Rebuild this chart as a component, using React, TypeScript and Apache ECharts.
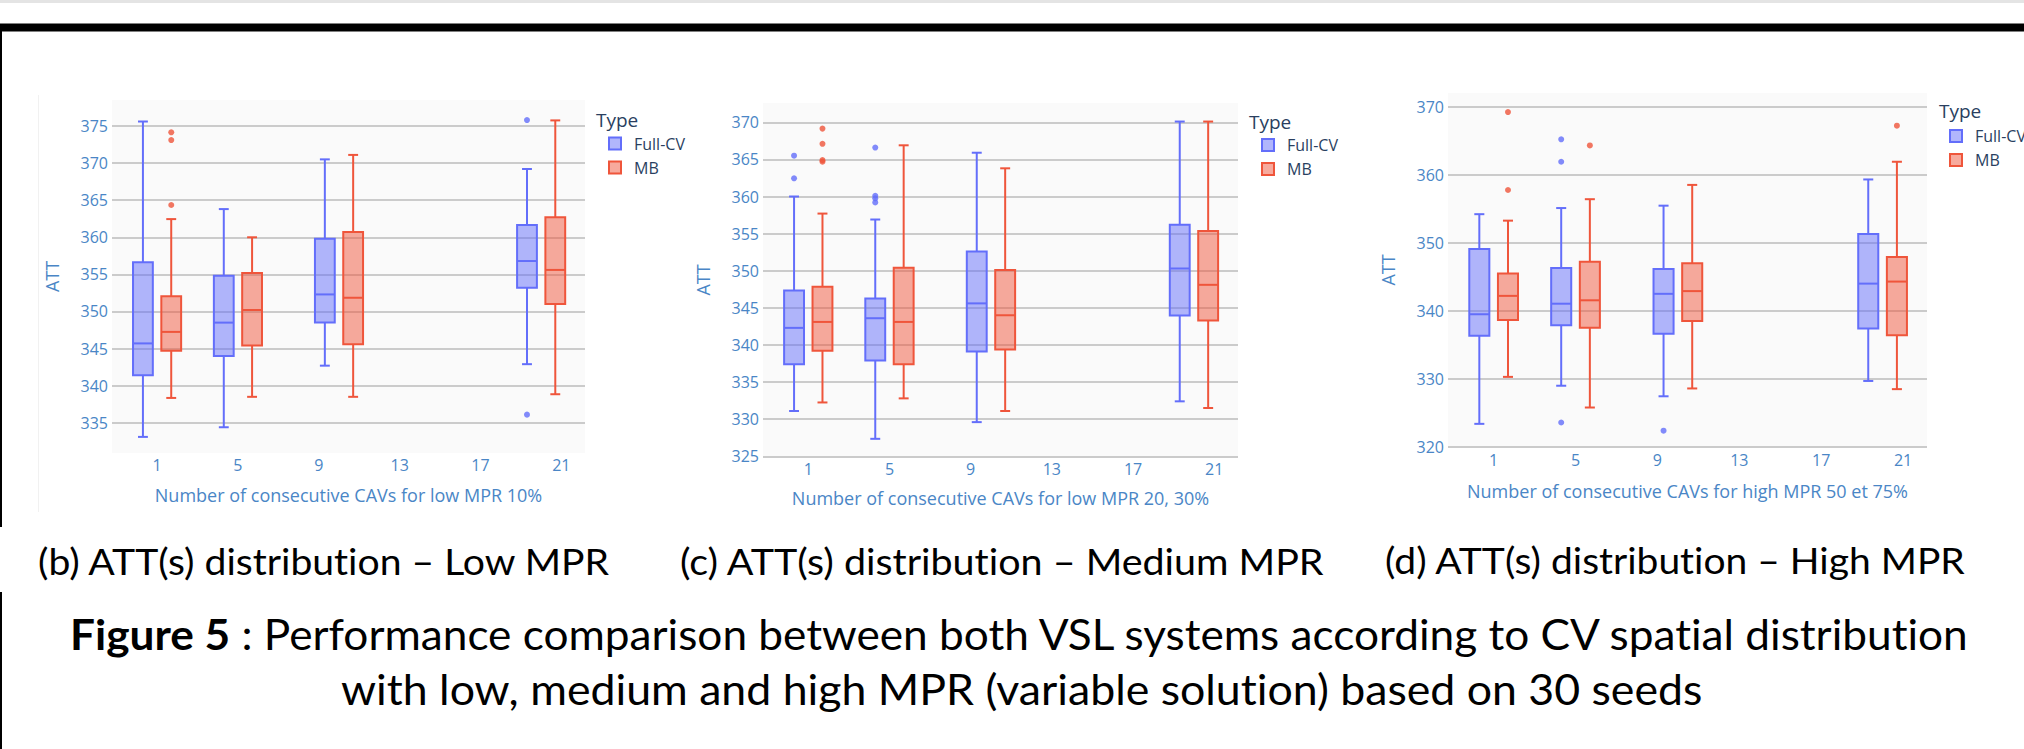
import React, { useEffect, useRef } from "react";
import * as echarts from "echarts";

// ---------------- DATA ----------------
const positions = [1, 5, 10, 20];
const xTickValues = [1, 5, 9, 13, 17, 21];
const seriesNames = ["Full-CV", "MB"];

// [min, q1, median, q3, max]
const lowFullCV = [
  [333.1, 341.4, 345.7, 356.65, 375.6],
  [334.4, 344.0, 348.5, 354.8, 363.8],
  [342.7, 348.5, 352.3, 359.8, 370.5],
  [342.9, 353.2, 356.8, 361.65, 369.2],
];
const lowMB = [
  [338.35, 344.7, 347.25, 352.05, 362.45],
  [338.5, 345.4, 350.2, 355.2, 360.0],
  [338.5, 345.6, 351.85, 360.7, 371.1],
  [338.85, 351.0, 355.6, 362.7, 375.75],
];
const lowFullCVOutliers = [[20, 375.8], [20, 336.1]];
const lowMBOutliers = [[1, 374.15], [1, 373.1], [1, 364.35]];
const lowYTicks = [335, 340, 345, 350, 355, 360, 365, 370, 375];

const mediumFullCV = [
  [331.1, 337.4, 342.3, 347.35, 360.0],
  [327.35, 337.9, 343.6, 346.25, 356.9],
  [329.6, 339.1, 345.6, 352.6, 365.9],
  [332.4, 343.95, 350.3, 356.2, 370.1],
];
const mediumMB = [
  [332.25, 339.2, 343.1, 347.85, 357.7],
  [332.8, 337.4, 343.1, 350.4, 366.9],
  [331.1, 339.4, 344.0, 350.1, 363.8],
  [331.5, 343.3, 348.1, 355.35, 370.1],
];
const mediumFullCVOutliers = [[1, 365.5], [1, 362.45], [5, 366.6], [5, 360.1], [5, 359.75], [5, 359.2]];
const mediumMBOutliers = [[1, 369.15], [1, 367.1], [1, 364.9], [1, 364.7]];
const mediumYTicks = [325, 330, 335, 340, 345, 350, 355, 360, 365, 370];

const highFullCV = [
  [323.4, 336.35, 339.5, 349.1, 354.2],
  [329.0, 337.9, 341.05, 346.3, 355.1],
  [327.45, 336.65, 342.5, 346.15, 355.45],
  [329.7, 337.4, 344.0, 351.3, 359.3],
];
const highMB = [
  [330.3, 338.65, 342.2, 345.5, 353.25],
  [325.8, 337.5, 341.55, 347.2, 356.4],
  [328.6, 338.5, 342.9, 347.0, 358.5],
  [328.5, 336.4, 344.3, 347.9, 361.9],
];
const highFullCVOutliers = [[5, 365.2], [5, 361.9], [5, 323.6], [10, 322.4]];
const highMBOutliers = [[1, 369.2], [1, 357.75], [5, 364.3], [20, 367.2]];
const highYTicks = [320, 330, 340, 350, 360, 370];

const xTitles = [
  "Number of consecutive CAVs for low MPR 10%",
  "Number of consecutive CAVs for low MPR 20, 30%",
  "Number of consecutive CAVs for high MPR 50 et 75%",
];
const yTitle = "ATT";
const legendTitle = "Type";
const subCaptions = [
  "(b) ATT(s) distribution \u2013 Low MPR",
  "(c) ATT(s) distribution \u2013 Medium MPR",
  "(d) ATT(s) distribution \u2013 High MPR",
];
const figureLabel = "Figure 5";
const figureLine1 = " : Performance comparison between both VSL systems according to CV spatial distribution";
const figureLine2 = "with low, medium and high MPR (variable solution) based on 30 seeds";

// ---------------- STYLE / LAYOUT ----------------
const COLORS = { "Full-CV": "#636efa", MB: "#ef553b" };
const FILLS = { "Full-CV": "rgba(99,110,250,0.5)", MB: "rgba(239,85,59,0.5)" };
const TICK_COLOR = "#4a86c6";
const LEGEND_COLOR = "#2a3f5f";
const GROUP_SPACING = 4; // smallest distance between positions
const BOX_GAP = 0.3;
const BOX_OFFSET = (GROUP_SPACING * (1 - BOX_GAP)) / 4;
const BOX_WIDTH = BOX_OFFSET * 2 * (1 - BOX_GAP);
const WHISKER_WIDTH = 0.5;
const X_MIN = -1.23;
const X_MAX = 22.17;
const CAPTION_FONT = "Lato";

const panels = [
  {
    full: lowFullCV, mb: lowMB, fullOut: lowFullCVOutliers, mbOut: lowMBOutliers, yTicks: lowYTicks,
    grid: { left: 112, top: 100, width: 473, height: 353 }, yMin: 330.93, yMax: 378.5,
    nameGap: 33, typePos: [596, 120], legendPos: [608, 133.5], labelMargin: 4,
  },
  {
    full: mediumFullCV, mb: mediumMB, fullOut: mediumFullCVOutliers, mbOut: mediumMBOutliers, yTicks: mediumYTicks,
    grid: { left: 763, top: 103, width: 475, height: 354 }, yMin: 324.9, yMax: 372.6,
    nameGap: 32, typePos: [1249, 122], legendPos: [1261, 135], labelMargin: 4,
  },
  {
    full: highFullCV, mb: highMB, fullOut: highFullCVOutliers, mbOut: highMBOutliers, yTicks: highYTicks,
    grid: { left: 1448, top: 93, width: 479, height: 354 }, yMin: 320, yMax: 372,
    nameGap: 35, typePos: [1939, 111], legendPos: [1949, 126], labelMargin: 5,
  },
];

function measure(text: string, font: string): number {
  const ctx = document.createElement("canvas").getContext("2d") as any;
  if (!ctx) return text.length * 10;
  ctx.font = font;
  try {
    ctx.fontVariantLigatures = "none";
  } catch (e) {
    /* ignore */
  }
  return ctx.measureText(text).width;
}

function renderBox(color: string, fill: string) {
  return (params: any, api: any) => {
    const x = api.value(0);
    const pts = [1, 2, 3, 4, 5].map((i) => api.coord([x, api.value(i)]));
    const [pMin, pQ1, pMed, pQ3, pMax] = pts;
    const w = api.size([BOX_WIDTH, 0])[0];
    const cx = pMed[0];
    const half = w / 2;
    const capHalf = (w * WHISKER_WIDTH) / 2;
    const ls = { stroke: color, lineWidth: 2, fill: null };
    return {
      type: "group",
      children: [
        { type: "line", shape: { x1: cx, y1: pMax[1], x2: cx, y2: pQ3[1] }, style: ls },
        { type: "line", shape: { x1: cx, y1: pQ1[1], x2: cx, y2: pMin[1] }, style: ls },
        { type: "line", shape: { x1: cx - capHalf, y1: pMax[1], x2: cx + capHalf, y2: pMax[1] }, style: ls },
        { type: "line", shape: { x1: cx - capHalf, y1: pMin[1], x2: cx + capHalf, y2: pMin[1] }, style: ls },
        {
          type: "rect",
          shape: { x: cx - half, y: pQ3[1], width: w, height: pQ1[1] - pQ3[1] },
          style: { fill, stroke: color, lineWidth: 2 },
        },
        { type: "line", shape: { x1: cx - half, y1: pMed[1], x2: cx + half, y2: pMed[1] }, style: ls },
      ],
    };
  };
}

function buildOption() {
  const grid: any[] = [];
  const xAxis: any[] = [];
  const yAxis: any[] = [];
  const series: any[] = [];
  const legend: any[] = [];
  const graphic: any[] = [];

  panels.forEach((p, i) => {
    grid.push({ ...p.grid, show: true, backgroundColor: "#fafafa", borderWidth: 0 });
    xAxis.push({
      type: "value",
      gridIndex: i,
      min: X_MIN,
      max: X_MAX,
      name: xTitles[i],
      nameLocation: "middle",
      nameGap: p.nameGap,
      nameTextStyle: { fontSize: 18, color: TICK_COLOR, fontFamily: "Open Sans" },
      axisLine: { show: false },
      axisTick: { show: false, customValues: xTickValues },
      splitLine: { show: false },
      axisLabel: {
        customValues: xTickValues,
        fontSize: 16,
        color: TICK_COLOR,
        fontFamily: "Open Sans",
        margin: p.labelMargin,
      },
    });
    yAxis.push({
      type: "value",
      gridIndex: i,
      min: p.yMin,
      max: p.yMax,
      name: yTitle,
      nameLocation: "middle",
      nameRotate: 90,
      nameGap: 51,
      nameTextStyle: { fontSize: 18, color: TICK_COLOR, fontFamily: "Open Sans" },
      axisLine: { show: false },
      axisTick: { show: false, customValues: p.yTicks },
      splitLine: { show: true, lineStyle: { color: "#cbcbcb", width: 2 } },
      axisLabel: {
        customValues: p.yTicks,
        fontSize: 16,
        color: TICK_COLOR,
        fontFamily: "Open Sans",
        margin: 4,
      },
    });

    const groups: [string, number[][], number[][], number][] = [
      ["Full-CV", p.full, p.fullOut, -BOX_OFFSET],
      ["MB", p.mb, p.mbOut, BOX_OFFSET],
    ];
    groups.forEach(([name, stats, outs, off]) => {
      const color = (COLORS as any)[name];
      const fill = (FILLS as any)[name];
      series.push({
        type: "custom",
        name,
        xAxisIndex: i,
        yAxisIndex: i,
        itemStyle: { color: fill, borderColor: color, borderWidth: 2 },
        encode: { x: 0, y: [1, 2, 3, 4, 5] },
        data: positions.map((pos, k) => [pos + off, ...stats[k]]),
        renderItem: renderBox(color, fill),
        z: 3,
      });
      series.push({
        type: "scatter",
        name: name + " outliers",
        xAxisIndex: i,
        yAxisIndex: i,
        symbol: "circle",
        symbolSize: 6,
        itemStyle: { color },
        data: outs.map(([pos, v]) => [pos + off, v]),
        z: 4,
      });
    });

    legend.push({
      orient: "vertical",
      left: p.legendPos[0],
      top: p.legendPos[1],
      padding: 0,
      itemWidth: 12,
      itemHeight: 12,
      itemGap: 4,
      icon: "rect",
      selectedMode: false,
      textStyle: {
        fontSize: 16,
        fontFamily: "Open Sans",
        color: LEGEND_COLOR,
        lineHeight: 20,
        padding: [0, 0, 0, 8],
      },
      data: seriesNames.map((n) => ({
        name: n,
        icon: "rect",
        itemStyle: { color: (FILLS as any)[n], borderColor: (COLORS as any)[n], borderWidth: 2 },
      })),
    });

    graphic.push({
      type: "text",
      x: p.typePos[0],
      y: p.typePos[1],
      style: {
        text: legendTitle,
        fontSize: 19,
        fontFamily: "Open Sans",
        fill: LEGEND_COLOR,
        align: "left",
        verticalAlign: "middle",
      },
    });
  });

  // page decorations
  graphic.push({ type: "rect", shape: { x: 0, y: 0, width: 2024, height: 3 }, style: { fill: "#e4e4e4" } });
  graphic.push({ type: "rect", shape: { x: 0, y: 23.5, width: 2024, height: 8 }, style: { fill: "#000" } });
  graphic.push({ type: "rect", shape: { x: 0, y: 31, width: 2, height: 496 }, style: { fill: "#000" } });
  graphic.push({ type: "rect", shape: { x: 0, y: 592, width: 2, height: 157 }, style: { fill: "#000" } });
  graphic.push({ type: "rect", shape: { x: 38, y: 95, width: 1, height: 417 }, style: { fill: "#f1f1f1" } });

  // sub captions
  const capBoxes = [
    [38, 612, 561],
    [680, 1326, 561],
    [1385, 1967, 560],
  ];
  subCaptions.forEach((t, i) => {
    const [l, r, y] = capBoxes[i];
    const w = measure(t, `36px ${CAPTION_FONT}`);
    graphic.push({
      type: "text",
      x: l,
      y,
      scaleX: (r - l) / w,
      style: { text: t, fontSize: 36, fontFamily: CAPTION_FONT, fill: "#000", align: "left", verticalAlign: "middle" },
    });
  });

  // figure caption
  const wb = measure(figureLabel, `bold 42px ${CAPTION_FONT}`);
  const wr = measure(figureLine1, `42px ${CAPTION_FONT}`);
  const s1 = (1974 - 70) / (wb + wr);
  graphic.push({
    type: "text",
    x: 70,
    y: 633,
    scaleX: s1,
    style: { text: figureLabel, fontSize: 42, fontWeight: "bold", fontFamily: CAPTION_FONT, fill: "#000", align: "left", verticalAlign: "middle" },
  });
  graphic.push({
    type: "text",
    x: 70 + wb * s1,
    y: 633,
    scaleX: s1,
    style: { text: figureLine1, fontSize: 42, fontFamily: CAPTION_FONT, fill: "#000", align: "left", verticalAlign: "middle" },
  });
  const w2 = measure(figureLine2, `42px ${CAPTION_FONT}`);
  graphic.push({
    type: "text",
    x: 341,
    y: 689,
    scaleX: (1704 - 341) / w2,
    style: { text: figureLine2, fontSize: 42, fontFamily: CAPTION_FONT, fill: "#000", align: "left", verticalAlign: "middle" },
  });

  return {
    animation: false,
    backgroundColor: "#ffffff",
    grid,
    xAxis,
    yAxis,
    legend,
    series,
    graphic,
  };
}

export default function App() {
  const ref = useRef<HTMLDivElement>(null);
  useEffect(() => {
    if (!ref.current) return;
    const chart = echarts.init(ref.current, undefined, { renderer: "svg" });
    chart.setOption(buildOption() as any);
    return () => chart.dispose();
  }, []);
  return (
    <div
      ref={ref}
      style={{
        position: "fixed",
        left: 0,
        top: 0,
        width: 2024,
        height: 749,
        background: "#fff",
        fontVariantLigatures: "none",
        fontFeatureSettings: '"liga" 0, "clig" 0',
      }}
    />
  );
}
